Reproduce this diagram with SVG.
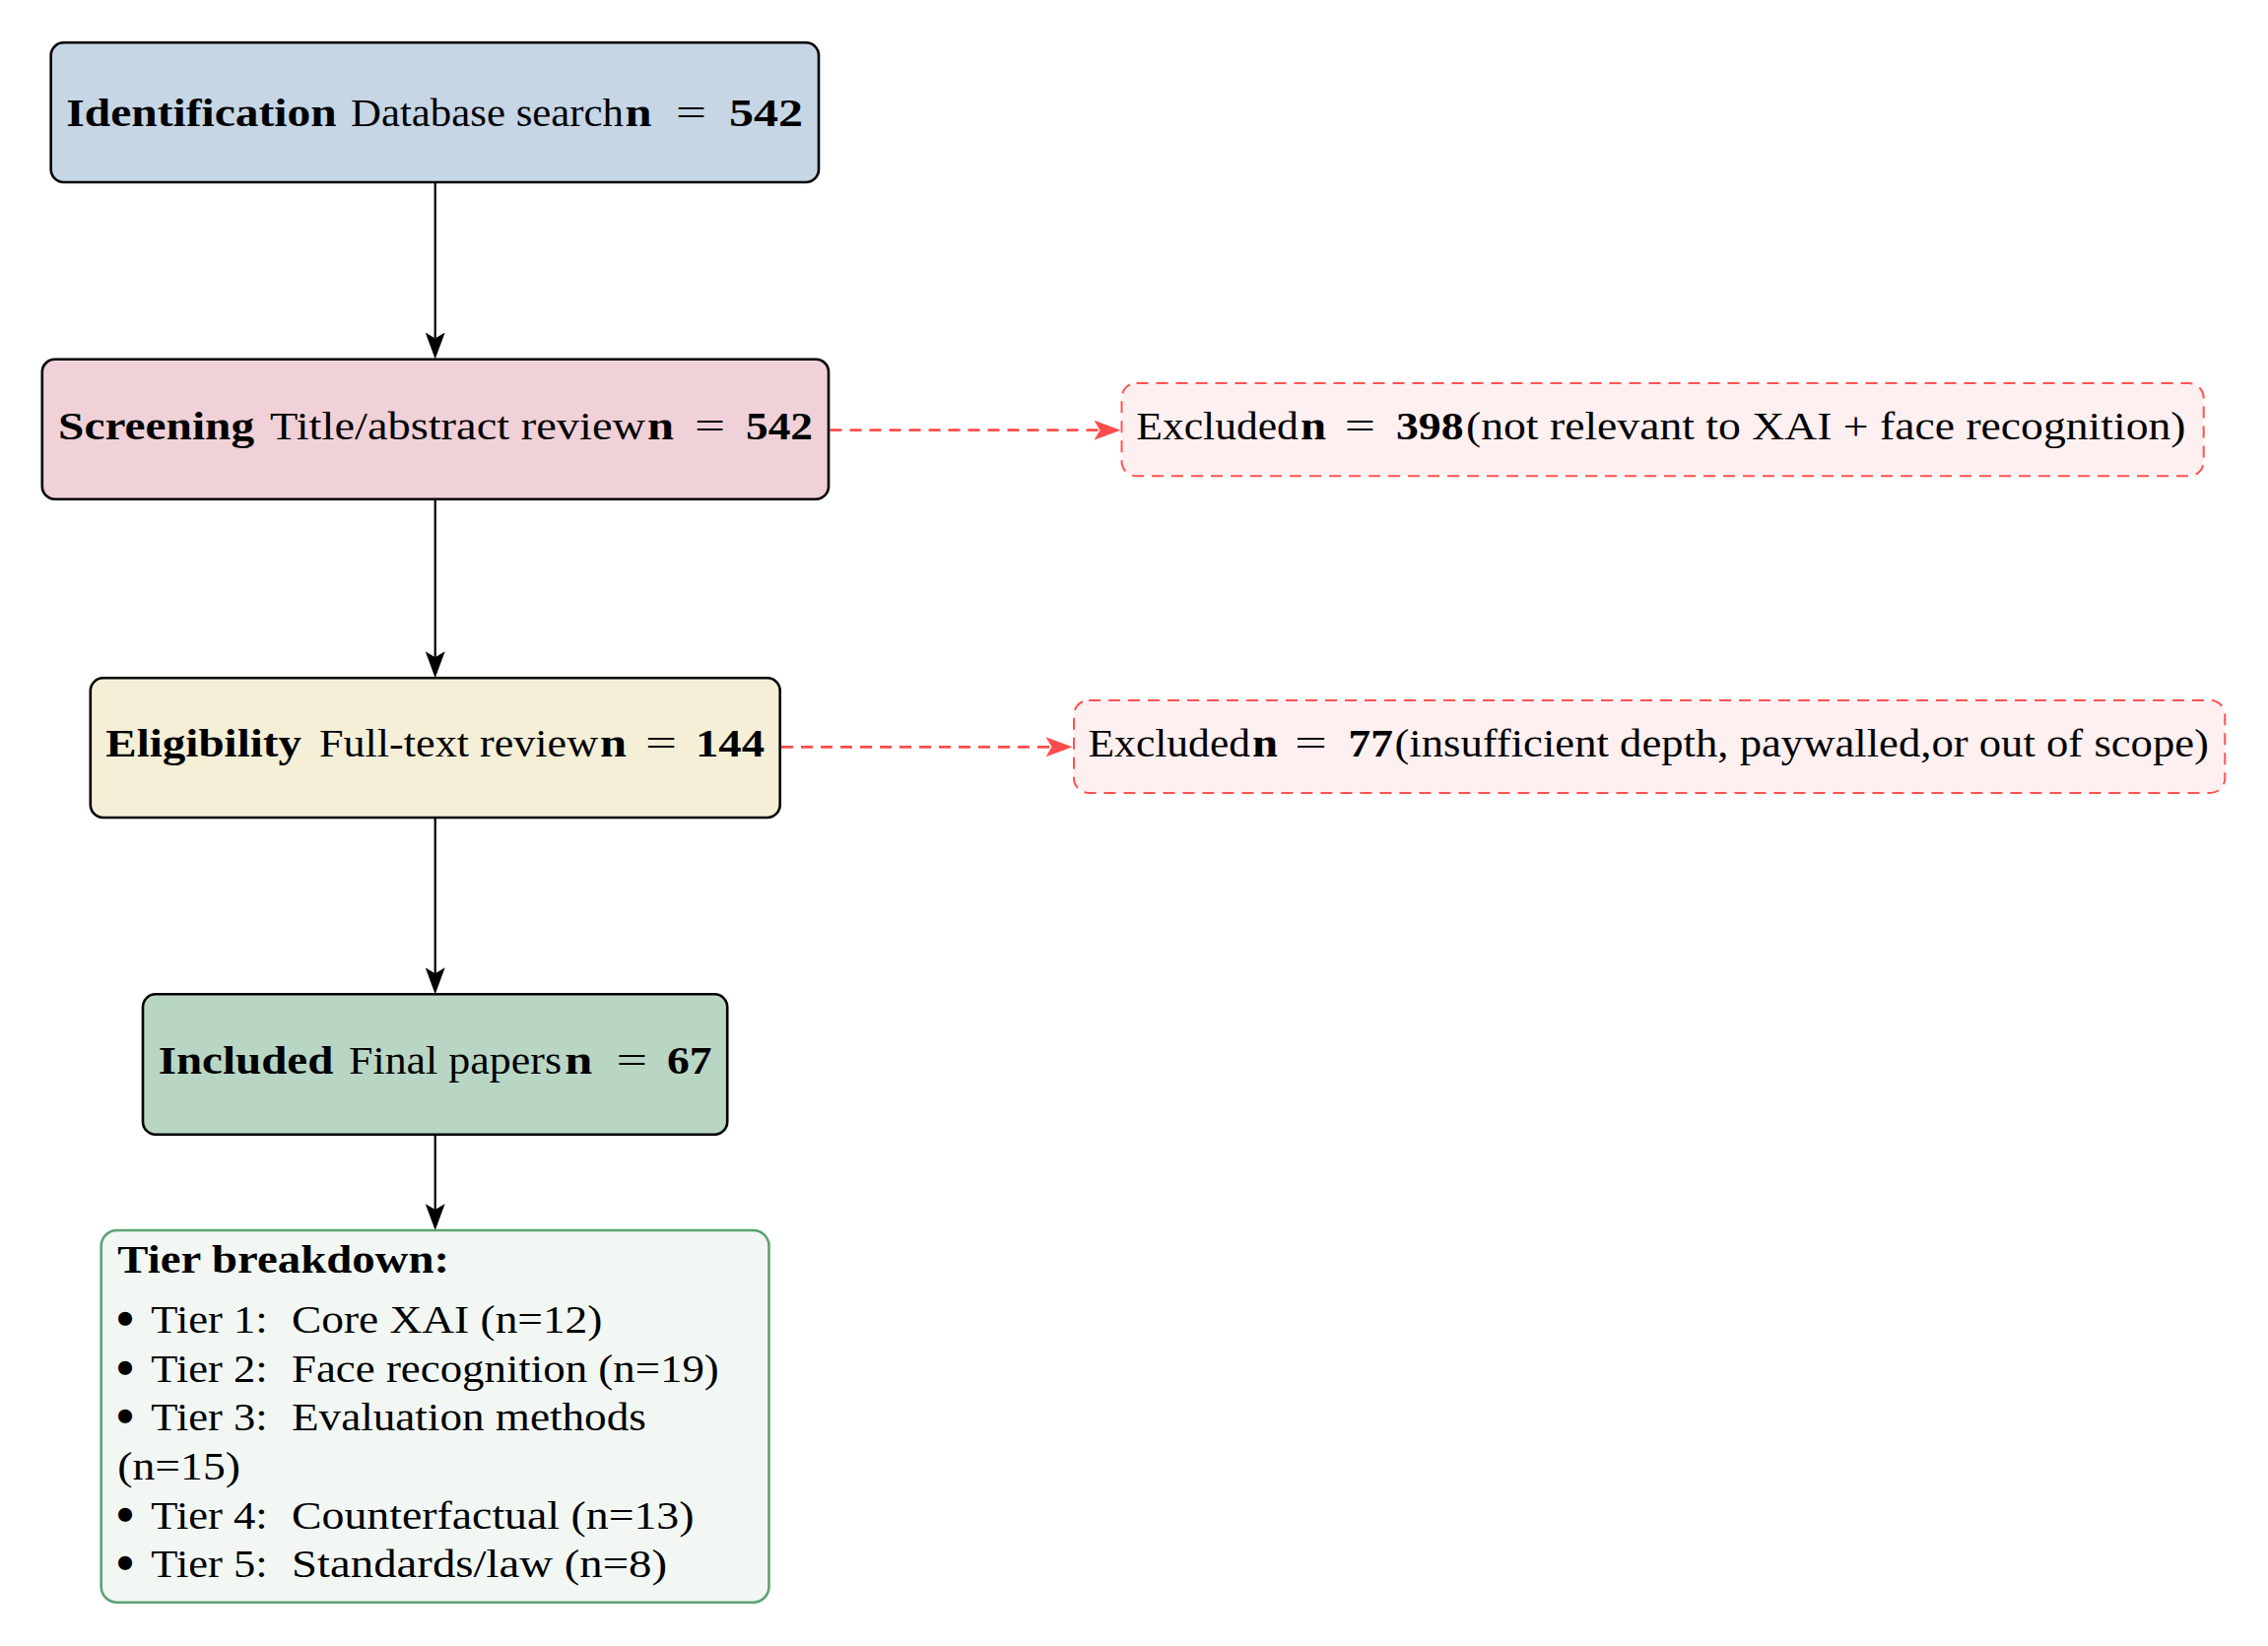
<svg xmlns="http://www.w3.org/2000/svg" width="2302" height="1671" viewBox="0 0 2302 1671">
<style>
.t{font-family:"Liberation Serif","DejaVu Serif",serif;font-size:40px;fill:#000}
.b{font-weight:bold}
.bul{stroke:#000;stroke-width:4.5;stroke-linejoin:round}
.main{stroke:#000;stroke-width:2.6}
.excl{fill:#FEF0F0;stroke:#FF5252;stroke-width:2;stroke-dasharray:12 8}
.arr{fill:none;stroke:#000;stroke-width:2.2}
.darr{fill:none;stroke:#FF4D4D;stroke-width:2.8;stroke-dasharray:12 8}
</style>
<defs>
<marker id="ah" markerUnits="userSpaceOnUse" viewBox="-6 -10 27 20" refX="0" refY="0" markerWidth="27" markerHeight="20" orient="auto">
<path d="M-6,-10 L21,0 L-6,10 L0,0 Z" fill="#000"/>
</marker>
<marker id="ahr" markerUnits="userSpaceOnUse" viewBox="-6 -10 27 20" refX="0" refY="0" markerWidth="27" markerHeight="20" orient="auto">
<path d="M-6,-10 L21,0 L-6,10 L0,0 Z" fill="#FF4D4D"/>
</marker>
</defs>
<rect width="2302" height="1671" fill="#fff"/>
<g id="connectors">
<path class="arr" d="M441.7,185 V343.5" marker-end="url(#ah)"/>
<path class="arr" d="M441.7,506.7 V667.3" marker-end="url(#ah)"/>
<path class="arr" d="M441.7,830 V988.3" marker-end="url(#ah)"/>
<path class="arr" d="M441.7,1151.7 V1228" marker-end="url(#ah)"/>
<path class="darr" d="M842.5,436.7 H1116.5" marker-end="url(#ahr)"/>
<path class="darr" d="M793,758.3 H1067.5" marker-end="url(#ahr)"/>
</g>
<g id="node-identification">
<rect class="main" x="51.7" y="43.3" width="779.3" height="141.7" rx="13" fill="#C6D6E5"/>
<text class="t" y="127.5"><tspan class="b" x="67.3" textLength="274.4" lengthAdjust="spacingAndGlyphs">Identification</tspan> <tspan x="356" textLength="277" lengthAdjust="spacingAndGlyphs">Database search</tspan><tspan class="b" x="634.5" textLength="27" lengthAdjust="spacingAndGlyphs">n</tspan> <tspan x="686" textLength="31" lengthAdjust="spacingAndGlyphs">=</tspan> <tspan class="b" x="740" textLength="75" lengthAdjust="spacingAndGlyphs">542</tspan></text>
</g>
<g id="node-screening">
<rect class="main" x="42.8" y="364.7" width="798.2" height="142" rx="13" fill="#F0D1D7"/>
<text class="t" y="445.5"><tspan class="b" x="59.1" textLength="199" lengthAdjust="spacingAndGlyphs">Screening</tspan> <tspan x="274" textLength="381" lengthAdjust="spacingAndGlyphs">Title/abstract review</tspan><tspan class="b" x="657" textLength="27" lengthAdjust="spacingAndGlyphs">n</tspan> <tspan x="705" textLength="31" lengthAdjust="spacingAndGlyphs">=</tspan> <tspan class="b" x="757" textLength="68" lengthAdjust="spacingAndGlyphs">542</tspan></text>
</g>
<g id="node-eligibility">
<rect class="main" x="91.8" y="688.3" width="699.9" height="141.7" rx="13" fill="#F5EFD7"/>
<text class="t" y="767.5"><tspan class="b" x="107.3" textLength="198.7" lengthAdjust="spacingAndGlyphs">Eligibility</tspan> <tspan x="324" textLength="283" lengthAdjust="spacingAndGlyphs">Full-text review</tspan><tspan class="b" x="609" textLength="27" lengthAdjust="spacingAndGlyphs">n</tspan> <tspan x="655" textLength="32" lengthAdjust="spacingAndGlyphs">=</tspan> <tspan class="b" x="706" textLength="70" lengthAdjust="spacingAndGlyphs">144</tspan></text>
</g>
<g id="node-included">
<rect class="main" x="145" y="1009.3" width="593.2" height="142.4" rx="13" fill="#B9D6C5"/>
<text class="t" y="1090"><tspan class="b" x="160.7" textLength="177.6" lengthAdjust="spacingAndGlyphs">Included</tspan> <tspan x="354" textLength="216" lengthAdjust="spacingAndGlyphs">Final papers</tspan><tspan class="b" x="573.3" textLength="28" lengthAdjust="spacingAndGlyphs">n</tspan> <tspan x="625.4" textLength="31.6" lengthAdjust="spacingAndGlyphs">=</tspan> <tspan class="b" x="677" textLength="45.5" lengthAdjust="spacingAndGlyphs">67</tspan></text>
</g>
<g id="node-tiers">
<rect x="102.7" y="1249" width="677.8" height="377.7" rx="16" fill="#F2F7F3" stroke="#5AA272" stroke-width="2.6"/>
<text class="t b" x="119.3" y="1291.7" textLength="336.7" lengthAdjust="spacingAndGlyphs">Tier breakdown:</text>
<text class="t" y="1352.7"><tspan class="bul" x="120">•</tspan> <tspan x="153.3" textLength="118.4" lengthAdjust="spacingAndGlyphs">Tier 1:</tspan> <tspan x="296" textLength="315.4" lengthAdjust="spacingAndGlyphs">Core XAI (n=12)</tspan></text>
<text class="t" y="1402.7"><tspan class="bul" x="120">•</tspan> <tspan x="153.3" textLength="118.4" lengthAdjust="spacingAndGlyphs">Tier 2:</tspan> <tspan x="296" textLength="433.8" lengthAdjust="spacingAndGlyphs">Face recognition (n=19)</tspan></text>
<text class="t" y="1452"><tspan class="bul" x="120">•</tspan> <tspan x="153.3" textLength="118.4" lengthAdjust="spacingAndGlyphs">Tier 3:</tspan> <tspan x="296" textLength="359.8" lengthAdjust="spacingAndGlyphs">Evaluation methods</tspan></text>
<text class="t" x="119.3" y="1501.7" textLength="124.7" lengthAdjust="spacingAndGlyphs">(n=15)</text>
<text class="t" y="1551.7"><tspan class="bul" x="120">•</tspan> <tspan x="153.3" textLength="118.4" lengthAdjust="spacingAndGlyphs">Tier 4:</tspan> <tspan x="296" textLength="408.5" lengthAdjust="spacingAndGlyphs">Counterfactual (n=13)</tspan></text>
<text class="t" y="1601"><tspan class="bul" x="120">•</tspan> <tspan x="153.3" textLength="118.4" lengthAdjust="spacingAndGlyphs">Tier 5:</tspan> <tspan x="296" textLength="381" lengthAdjust="spacingAndGlyphs">Standards/law (n=8)</tspan></text>
</g>
<g id="node-excluded-screening">
<rect class="excl" x="1138.5" y="389" width="1098.2" height="94.3" rx="15"/>
<text class="t" y="446.3"><tspan x="1153.3" textLength="164.6" lengthAdjust="spacingAndGlyphs">Excluded</tspan><tspan class="b" x="1320" textLength="26" lengthAdjust="spacingAndGlyphs">n</tspan> <tspan x="1364.7" textLength="31.3" lengthAdjust="spacingAndGlyphs">=</tspan> <tspan class="b" x="1417" textLength="68.6" lengthAdjust="spacingAndGlyphs">398</tspan><tspan x="1488" textLength="730.5" lengthAdjust="spacingAndGlyphs">(not relevant to XAI + face recognition)</tspan></text>
</g>
<g id="node-excluded-eligibility">
<rect class="excl" x="1090" y="711" width="1168.3" height="94" rx="15"/>
<text class="t" y="767.8"><tspan x="1104.5" textLength="164.5" lengthAdjust="spacingAndGlyphs">Excluded</tspan><tspan class="b" x="1271" textLength="26" lengthAdjust="spacingAndGlyphs">n</tspan> <tspan x="1314" textLength="33" lengthAdjust="spacingAndGlyphs">=</tspan> <tspan class="b" x="1368.6" textLength="45.4" lengthAdjust="spacingAndGlyphs">77</tspan><tspan x="1415.4" textLength="826.6" lengthAdjust="spacingAndGlyphs">(insufficient depth, paywalled,or out of scope)</tspan></text>
</g>
</svg>
